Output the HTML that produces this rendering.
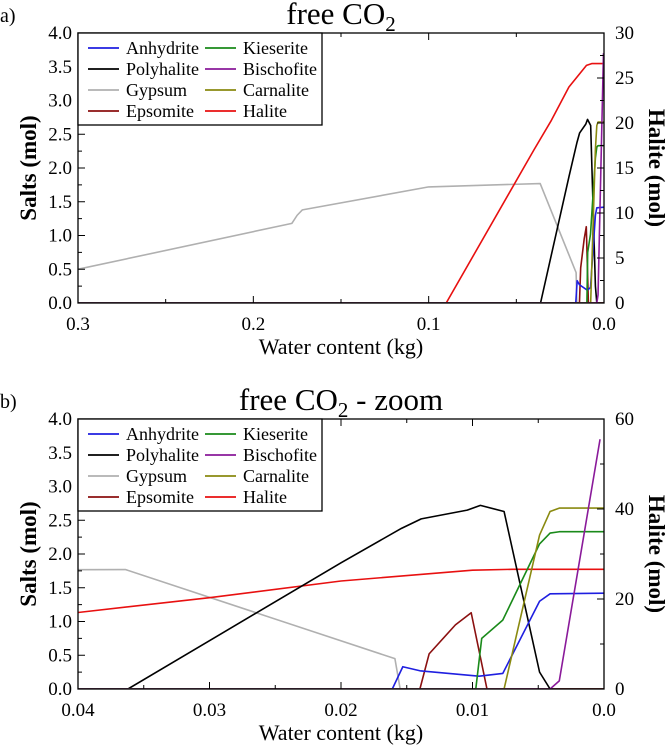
<!DOCTYPE html>
<html><head><meta charset="utf-8">
<style>
html,body{margin:0;padding:0;background:#fff;}
svg, svg text{font-family:"Liberation Serif","DejaVu Serif",serif;}
svg{display:block;}
</style></head>
<body>
<svg id="fig" width="666" height="747" viewBox="0 0 666 747" font-family="Liberation Serif, DejaVu Serif, serif" xmlns="http://www.w3.org/2000/svg"></svg>
<script>
// ---- data (water content kg, salts mol; halite on right axis mol) ----
const gypsumX = [0.3, 0.178, 0.175, 0.172, 0.1, 0.0364, 0.0159, 0.0155, 0];
const gypsumY = [0.5, 1.18, 1.3, 1.38, 1.72, 1.77, 0.45, 0, 0];
const polyhaliteX = [0.3, 0.0362, 0.02, 0.0154, 0.0139, 0.0104, 0.0094, 0.0076, 0.0049, 0.0041, 0];
const polyhaliteY = [0, 0, 1.87, 2.38, 2.52, 2.65, 2.72, 2.63, 0.25, 0, 0];
const haliteX = [0.3, 0.09, 0.04, 0.03, 0.02, 0.01, 0.007, 0];
const haliteY = [0, 0, 17.0, 20.3, 24, 26.4, 26.6, 26.6];
const anhydriteX = [0.3, 0.0161, 0.0153, 0.014, 0.0095, 0.0077, 0.0049, 0.0041, 0];
const anhydriteY = [0, 0, 0.33, 0.27, 0.19, 0.23, 1.3, 1.41, 1.42];
const epsomiteX = [0.3, 0.014, 0.0133, 0.0113, 0.0101, 0.0089, 0];
const epsomiteY = [0, 0, 0.52, 0.95, 1.13, 0, 0];
const kieseriteX = [0.3, 0.00975, 0.0093, 0.0077, 0.0049, 0.0041, 0.0034, 0];
const kieseriteY = [0, 0, 0.75, 1.02, 2.15, 2.31, 2.33, 2.33];
const carnaliteX = [0.3, 0.0076, 0.0049, 0.0041, 0.0034, 0];
const carnaliteY = [0, 0, 2.28, 2.63, 2.68, 2.68];
const bischofiteX = [0.3, 0.0041, 0.0034, 0.0003];
const bischofiteY = [0, 0, 0.12, 3.7];

const seriesNames = ["Gypsum","Halite","Polyhalite","Epsomite","Anhydrite","Kieserite","Carnalite","Bischofite"];
const legendOrder = ["Anhydrite","Polyhalite","Gypsum","Epsomite","Kieserite","Bischofite","Carnalite","Halite"];
const colors = {Anhydrite:"#1f1fe0",Polyhalite:"#000",Gypsum:"#b0b0b0",Epsomite:"#8b1010",Kieserite:"#1a8a1a",Bischofite:"#8a1a9a",Carnalite:"#8a8a10",Halite:"#e81010"};
const dataX = {Gypsum:gypsumX,Halite:haliteX,Polyhalite:polyhaliteX,Epsomite:epsomiteX,Anhydrite:anhydriteX,Kieserite:kieseriteX,Carnalite:carnaliteX,Bischofite:bischofiteX};
const dataY = {Gypsum:gypsumY,Halite:haliteY,Polyhalite:polyhaliteY,Epsomite:epsomiteY,Anhydrite:anhydriteY,Kieserite:kieseriteY,Carnalite:carnaliteY,Bischofite:bischofiteY};

const topXTicks = [0.3,0.2,0.1,0.0];
const topXLabels = ["0.3","0.2","0.1","0.0"];
const leftTicks = [0,0.5,1,1.5,2,2.5,3,3.5,4];
const leftLabels = ["0.0","0.5","1.0","1.5","2.0","2.5","3.0","3.5","4.0"];
const topRightTicks = [0,5,10,15,20,25,30];
const botXTicks = [0.04,0.03,0.02,0.01,0.0];
const botXLabels = ["0.04","0.03","0.02","0.01","0.0"];
const botRightTicks = [0,20,40,60];

const NS="http://www.w3.org/2000/svg";
const svg=document.getElementById('fig');
const FF='Liberation Serif, DejaVu Serif, serif';
function mk(tag,attrs,parent){const e=document.createElementNS(NS,tag);for(const k in attrs)e.setAttribute(k,attrs[k]);(parent||svg).appendChild(e);return e;}
function txt(s,attrs,parent){attrs['font-family']=FF;const e=mk('text',attrs,parent);e.textContent=s;return e;}

function panel(cfg){
  const g=mk('g',{});
  
  
  const L=78,R=604,T=cfg.top,B=cfg.bottom;
  const sx=v=>R-(v/cfg.xmax)*(R-L);
  const sy=v=>B-(v/4)*(B-T);
  const sr=v=>B-(v/cfg.rmax)*(B-T);
  const clip=mk('clipPath',{id:'clip'+cfg.id},g);
  mk('rect',{x:L,y:T,width:R-L,height:B-T},clip);
  const sg=mk('g',{'clip-path':'url(#clip'+cfg.id+')'},g);
  seriesNames.forEach(n=>{
    const xs=dataX[n],ys=dataY[n];
    const pts=xs.map((x,i)=>sx(x).toFixed(2)+','+(n==="Halite"?sr(ys[i]):sy(ys[i])).toFixed(2)).join(' ');
    const p=mk('polyline',{points:pts,fill:'none',stroke:colors[n],'stroke-width':1.6,'stroke-linejoin':'round'},sg);
    
    
  });
  const fr=mk('rect',{x:L,y:T,width:R-L,height:B-T,fill:'none',stroke:'#000','stroke-width':1.3},g);
  
  
  cfg.xticks.forEach((v,i)=>{
    const x=sx(v);
    mk('line',{x1:x,y1:B,x2:x,y2:B-7,stroke:'#000'},g);
    mk('line',{x1:x,y1:T,x2:x,y2:T+7,stroke:'#000'},g);
    const t=txt(cfg.xlabels[i],{x:x,y:B+27,'font-size':19,'text-anchor':'middle'},g);
    
    
  });
  for(let i=0;i<cfg.xticks.length-1;i++){
    const x=sx((cfg.xticks[i]+cfg.xticks[i+1])/2);
    mk('line',{x1:x,y1:B,x2:x,y2:B-4,stroke:'#000'},g);
    mk('line',{x1:x,y1:T,x2:x,y2:T+4,stroke:'#000'},g);
  }
  leftTicks.forEach((v,i)=>{
    const y=sy(v);
    mk('line',{x1:L,y1:y,x2:L+7,y2:y,stroke:'#000'},g);
    const t=txt(leftLabels[i],{x:L-6,y:y+6,'font-size':19,'text-anchor':'end'},g);
    
    
    if(i<leftTicks.length-1){const ym=sy(v+0.25);mk('line',{x1:L,y1:ym,x2:L+4,y2:ym,stroke:'#000'},g);}
  });
  cfg.rticks.forEach((v,i)=>{
    const y=sr(v);
    mk('line',{x1:R,y1:y,x2:R-7,y2:y,stroke:'#000'},g);
    const t=txt(String(v),{x:R+11,y:y+6,'font-size':19},g);
    
    
    if(i<cfg.rticks.length-1){const ym=sr((v+cfg.rticks[i+1])/2);mk('line',{x1:R,y1:ym,x2:R-4,y2:ym,stroke:'#000'},g);}
  });
  const yl=txt('Salts (mol)',{x:0,y:0,'font-size':23,'font-weight':'bold','text-anchor':'middle',transform:`translate(36,${(T+B)/2}) rotate(-90)`},g);
  
  
  const yr=txt('Halite (mol)',{x:0,y:0,'font-size':23,'font-weight':'bold','text-anchor':'middle',transform:`translate(649,${(T+B)/2}) rotate(90)`},g);
  
  
  const xl=txt('Water content (kg)',{x:(L+R)/2,y:B+51,'font-size':22,'text-anchor':'middle'},g);
  
  
  const ti=mk('text',{x:(L+R)/2,y:T-9,'font-size':31,'text-anchor':'middle','font-family':FF},g);
  
  
  ti.innerHTML='free CO<tspan font-size="21" dy="7">2</tspan><tspan dy="-7">'+cfg.titleSuffix+'</tspan>';
  const pl=txt(cfg.letter,{x:0,y:T-11,'font-size':20},g);
  
  
  const lg=mk('g',{},g);
  
  
  mk('rect',{x:L,y:T,width:244,height:92,fill:'#fff',stroke:'#000','stroke-width':1.3},lg);
  legendOrder.forEach((n,i)=>{
    const col=Math.floor(i/4),row=i%4;
    const x0=L+10+col*117,y0=T+15+row*21;
    const e=mk('g',{},lg);
    
    
    mk('line',{x1:x0,y1:y0,x2:x0+31,y2:y0,stroke:colors[n],'stroke-width':1.8},e);
    txt(n,{x:x0+38,y:y0+6,'font-size':18},e);
  });
}
panel({id:1,name:'chart-free-co2',top:33,bottom:303,xmax:0.3,rmax:30,xticks:topXTicks,xlabels:topXLabels,rticks:topRightTicks,titleSuffix:'',letter:'a)'});
panel({id:2,name:'chart-free-co2-zoom',top:419,bottom:689,xmax:0.04,rmax:60,xticks:botXTicks,xlabels:botXLabels,rticks:botRightTicks,titleSuffix:' - zoom',letter:'b)'});
</script>
</body></html>
